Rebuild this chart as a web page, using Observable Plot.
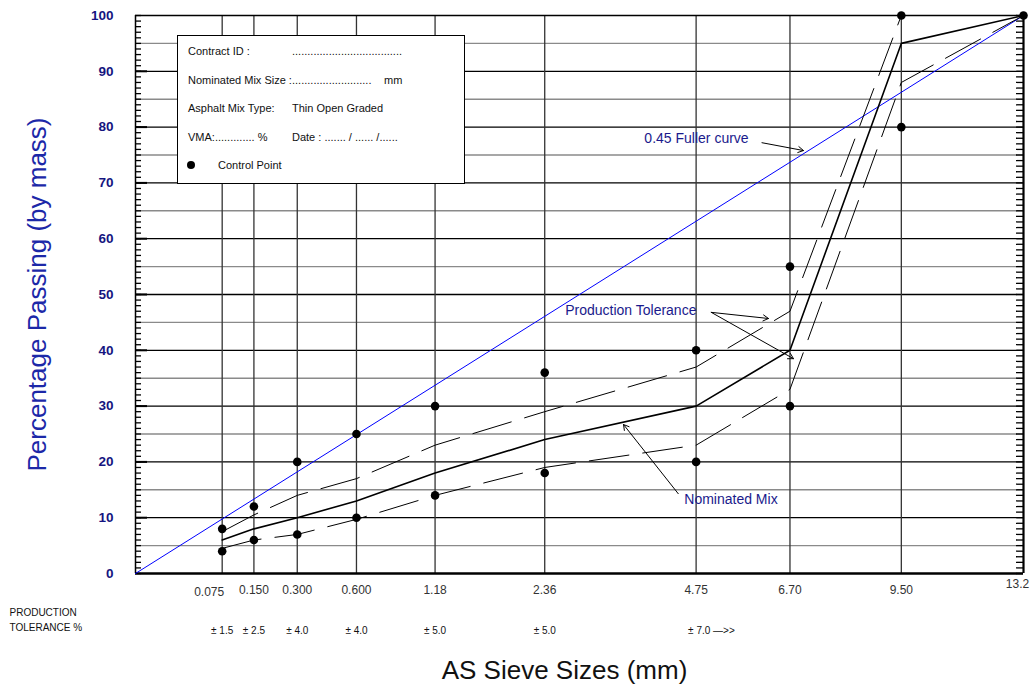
<!DOCTYPE html>
<html><head><meta charset="utf-8">
<script src="https://cdn.jsdelivr.net/npm/d3@7"></script>
<script src="https://cdn.jsdelivr.net/npm/@observablehq/plot@0.6"></script>
<style>
body{margin:0;background:#fff;font-family:Arial,"Liberation Sans",sans-serif;}
#wrap{position:relative;width:1031px;height:687px;overflow:hidden;}
.legend{position:absolute;left:177px;top:35px;width:286px;height:147px;border:1.6px solid #000;background:#fff;font-size:11px;color:#111;}
.legend div{position:absolute;white-space:nowrap;line-height:12px;}
.bullet{width:8px;height:8px;border-radius:50%;background:#000;}
</style></head><body><div id="wrap"></div>
<script>
// ---- data ----
const sieves = [0.075, 0.150, 0.300, 0.600, 1.18, 2.36, 4.75, 6.70, 9.50, 13.2];
const sieveLabels = ["0.075", "0.150", "0.300", "0.600", "1.18", "2.36", "4.75", "6.70", "9.50", "13.2"];
const nominatedMix = [6, 8, 10, 13, 18, 24, 30, 40, 95, 100];
const upperTolerance = [7.5, 10.5, 14, 17, 23, 29, 37, 47, 100, 100];
const lowerTolerance = [4.5, 6, 7, 9.7, 14, 19, 23, 33, 88, 100];
const controlSieves = [0.075, 0.075, 0.150, 0.150, 0.300, 0.300, 0.600, 0.600, 1.18, 1.18, 2.36, 2.36, 4.75, 4.75, 6.70, 6.70, 9.50, 9.50, 13.2];
const controlValues = [8, 4, 12, 6, 20, 7, 25, 10, 30, 14, 36, 18, 40, 20, 55, 30, 100, 80, 100];
const toleranceSieves = [0.075, 0.150, 0.300, 0.600, 1.18, 2.36];
const toleranceLabels = ["± 1.5", "± 2.5", "± 4.0", "± 4.0", "± 5.0", "± 5.0"];
const lastToleranceSieve = [4.75];
const lastToleranceLabel = ["± 7.0 —>>"];
const fullerSieves = [0, 13.2];
const fullerValues = [0, 100];
const yTicks = [0, 10, 20, 30, 40, 50, 60, 70, 80, 90, 100];
const annotationLabels = ["0.45 Fuller curve", "Production Tolerance", "Nominated Mix"];
const annotationX = [3.83, 2.63, 4.53];
const annotationY = [78.0, 47.1, 13.3];
const arrowFromX = [6.08, 5.04, 5.04, 4.42];
const arrowFromY = [77.2, 46.8, 46.8, 14.3];
const arrowToX = [7.01, 6.22, 6.78, 3.49];
const arrowToY = [75.8, 45.7, 38.5, 26.7];

// ---- tables ----
const series = (vals) => sieves.map((s, i) => ({x: s, y: vals[i]}));
const mixT = series(nominatedMix), upT = series(upperTolerance), loT = series(lowerTolerance);
const ctrl = controlSieves.map((s, i) => ({x: s, y: controlValues[i]}));
const fuller = fullerSieves.map((s, i) => ({x: s, y: fullerValues[i]}));
const ann = annotationLabels.map((t, i) => ({t, x: annotationX[i], y: annotationY[i]}));
const arrows = arrowFromX.map((x, i) => ({x1: x, y1: arrowFromY[i], x2: arrowToX[i], y2: arrowToY[i]}));
const minor = d3.range(0, 101, 1);
const tens = d3.range(10, 100, 10);
const fives = d3.range(5, 100, 10);
const navy = "#1a1a8c";

const chart = Plot.plot({
  width: 1031, height: 687,
  marginTop: 15, marginBottom: 114, marginLeft: 135, marginRight: 8,
  x: {type: "pow", exponent: 0.45, domain: [0, 13.2], axis: null},
  y: {domain: [0, 100], axis: null},
  style: {fontFamily: "Arial,'Liberation Sans',sans-serif", background: "#fff", overflow: "visible"},
  marks: [
    Plot.ruleY(fives, {stroke: "#8a8a8a", strokeWidth: 1.4}),
    Plot.ruleY(tens, {stroke: "#000", strokeWidth: 1.3}),
    Plot.ruleX(sieves.slice(0, -1), {stroke: "#333", strokeWidth: 1.3}),
    // frame
    Plot.ruleY([100], {stroke: "#000", strokeWidth: 1.5}),
    Plot.ruleY([0], {stroke: "#000", strokeWidth: 2.5}),
    Plot.ruleX([0], {stroke: "#000", strokeWidth: 1.5}),
    Plot.ruleX([13.2], {stroke: "#000", strokeWidth: 2.2}),
    // ruler ticks
    Plot.tickY(minor, {y: d => d, insetRight: 882, stroke: "#000", strokeWidth: 1.3}),
    Plot.tickY(tens, {y: d => d, insetRight: 876, stroke: "#000", strokeWidth: 2}),
    Plot.tickY(minor, {y: d => d, insetLeft: 881, stroke: "#000", strokeWidth: 1.3}),
    // curves
    Plot.line(fuller, {x: "x", y: "y", stroke: "#0000ff", strokeWidth: 1}),
    Plot.line(upT, {x: "x", y: "y", stroke: "#000", strokeWidth: 1, strokeDasharray: "40,14"}),
    Plot.line(loT, {x: "x", y: "y", stroke: "#000", strokeWidth: 1, strokeDasharray: "40,14"}),
    Plot.line(mixT, {x: "x", y: "y", stroke: "#000", strokeWidth: 1.6}),
    Plot.dot(ctrl, {x: "x", y: "y", r: 4.3, fill: "#000"}),
    // annotations
    Plot.arrow(arrows, {x1: "x1", y1: "y1", x2: "x2", y2: "y2", stroke: "#000", strokeWidth: 1, headLength: 9}),
    Plot.text(ann, {x: "x", y: "y", text: "t", textAnchor: "start", fill: navy, fontSize: 14}),
    // y tick labels
    Plot.text(yTicks, {y: d => d, frameAnchor: "left", dx: -22, textAnchor: "end", text: d => String(d), fill: "#151580", fontWeight: "bold", fontSize: 13.5}),
    // y title
    Plot.text(["Percentage Passing (by mass)"], {frameAnchor: "left", dx: -98, textAnchor: "middle", rotate: -90, fontSize: 26, fill: "#1c28a8"}),
    // x tick labels
    Plot.text(sieves.slice(1, -1), {x: d => d, frameAnchor: "bottom", dy: 20, text: (d, i) => sieveLabels[i + 1], fill: "#333", fontSize: 12}),
    Plot.text(sieves.slice(0, 1), {x: d => d, frameAnchor: "bottom", dy: 22, dx: -13, text: () => sieveLabels[0], fill: "#333", fontSize: 12}),
    Plot.text(sieves.slice(-1), {x: d => d, frameAnchor: "bottom", dy: 14, dx: -6, text: () => sieveLabels[9], fill: "#333", fontSize: 12}),
    // tolerance row
    Plot.text(toleranceSieves, {x: d => d, frameAnchor: "bottom", dy: 60, text: (d, i) => toleranceLabels[i], fill: "#111", fontSize: 10}),
    Plot.text(lastToleranceSieve, {x: d => d, frameAnchor: "bottom", dy: 60, dx: -8, textAnchor: "start", text: () => lastToleranceLabel[0], fill: "#111", fontSize: 10}),
    Plot.text(["PRODUCTION"], {frameAnchor: "bottom-left", dx: -126, dy: 42, textAnchor: "start", fill: "#111", fontSize: 10}),
    Plot.text(["TOLERANCE %"], {frameAnchor: "bottom-left", dx: -126, dy: 57, textAnchor: "start", fill: "#111", fontSize: 10}),
    // x title
    Plot.text(["AS Sieve Sizes (mm)"], {frameAnchor: "bottom", dx: -15, dy: 105, fontSize: 26, fill: "#111"})
  ]
});
const wrap = document.getElementById("wrap");
wrap.appendChild(chart);

// legend box
const legend = document.createElement("div");
legend.className = "legend";
const rows = [
  [10, 9, "Contract ID :"], [114, 9, "...................................."],
  [10, 38, "Nominated Mix Size :"], [114, 38, ".........................."], [206, 38, "mm"],
  [10, 66, "Asphalt Mix Type:"], [114, 66, "Thin Open Graded"],
  [10, 95, "VMA:.............  %"], [114, 95, "Date :  ....... / ...... /......"],
  [40, 123, "Control Point"]
];
for (const [l, t, s] of rows) {
  const d = document.createElement("div");
  d.style.left = l + "px"; d.style.top = t + "px"; d.textContent = s;
  legend.appendChild(d);
}
const b = document.createElement("div");
b.className = "bullet"; b.style.left = "9px"; b.style.top = "125px";
legend.appendChild(b);
wrap.appendChild(legend);
</script></body></html>
